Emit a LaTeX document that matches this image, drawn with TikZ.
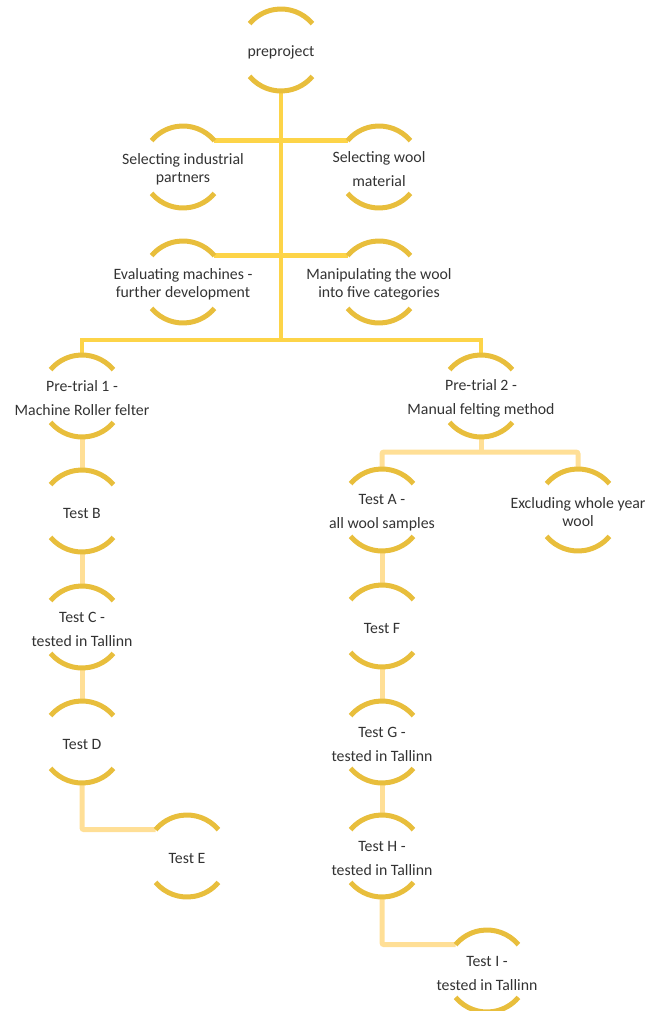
\documentclass[tikz,border=0pt]{standalone}
\usepackage{fontspec}
\setmainfont{Carlito}
\usetikzlibrary{positioning}

\definecolor{ringgold}{HTML}{E8BE3C}
\definecolor{trunkyellow}{HTML}{FDD448}
\definecolor{paleyellow}{HTML}{FFDF96}
\definecolor{textgray}{HTML}{333333}

\tikzset{
  stage/.style={circle, minimum size=82pt, inner sep=0pt, outer sep=0pt},
  lab/.style={text=textgray, align=center, inner sep=0pt, yshift=-2.5pt, font=\fontsize{15.8}{18}\selectfont},
  labwide/.style={lab, font=\fontsize{15.8}{24}\selectfont},
  ringline/.style={ringgold, line width=5pt},
  trunk/.style={trunkyellow, line width=4.5pt},
  branch/.style={paleyellow, line width=5pt, rounded corners=2pt},
}

\begin{document}
\begin{tikzpicture}[x=1pt, y=1pt]
  \useasboundingbox (0,0) rectangle (647,-1011);
  % top of the tree
  \node[stage, label={[lab]center:{preproject}}] (pre) at (281,-50) {};
  \node[stage, label={[lab]center:{Selecting industrial\\partners}}] (sip) at (183,-167) {};
  \node[stage, label={[labwide]center:{Selecting wool\\material}}] (swm) at (379,-167) {};
  \node[stage, label={[lab]center:{Evaluating machines -\\further development}}] (evm) at (183,-282) {};
  \node[stage, label={[lab]center:{Manipulating the wool\\into five categories}}] (mpw) at (379,-282) {};
  % left branch: roller felter
  \node[stage, label={[labwide]center:{Pre-trial 1 -\\Machine Roller felter}}] (pt1) at (82,-396) {};
  \node[stage, label={[lab]center:{Test B}}] (tb) at (82,-511) {};
  \node[stage, label={[labwide]center:{Test C -\\tested in Tallinn}}] (tc) at (82,-627) {};
  \node[stage, label={[lab]center:{Test D}}] (td) at (82,-742) {};
  \node[stage, label={[lab]center:{Test E}}] (te) at (187,-856) {};
  % right branch: manual felting
  \node[stage, label={[labwide]center:{Pre-trial 2 -\\Manual felting method}}] (pt2) at (481,-396) {};
  \node[stage, label={[labwide]center:{Test A -\\all wool samples}}] (ta) at (382,-510) {};
  \node[stage, label={[lab]center:{Excluding whole year\\wool}}] (ex) at (578,-510) {};
  \node[stage, label={[lab]center:{Test F}}] (tf) at (382,-626) {};
  \node[stage, label={[labwide]center:{Test G -\\tested in Tallinn}}] (tg) at (382,-742) {};
  \node[stage, label={[labwide]center:{Test H -\\tested in Tallinn}}] (th) at (382,-856) {};
  \node[stage, label={[labwide]center:{Test I -\\tested in Tallinn}}] (ti) at (487,-971) {};
  % trunk and first split
  \coordinate (split) at (281,-340);
  \coordinate (fork) at (481,-452);
  \draw[trunk] (pre.south) -- (split);
  \draw[trunk] (sip.40) -- (swm.140);
  \draw[trunk] (evm.40) -- (mpw.140);
  \draw[trunk] (pt1.north) |- (split) -| (pt2.north);
  % lower links
  \draw[branch] (pt1.south) -- (tb.north);
  \draw[branch] (tb.south) -- (tc.north);
  \draw[branch] (tc.south) -- (td.north);
  \draw[branch] (td.south) |- (te.140);
  \draw[branch] (pt2.south) -- (fork);
  \draw[branch] (ta.north) |- (fork) -| (ex.north);
  \draw[branch] (ta.south) -- (tf.north);
  \draw[branch] (tf.south) -- (tg.north);
  \draw[branch] (tg.south) -- (th.north);
  \draw[branch] (th.south) |- (ti.140);
  % the two arcs of every stage
  \foreach \n in {pre,sip,swm,evm,mpw,pt1,tb,tc,td,te,pt2,ta,ex,tf,tg,th,ti} {
    \draw[ringline] (\n.40) arc[start angle=40, end angle=140, radius=41pt];
    \draw[ringline] (\n.220) arc[start angle=220, end angle=320, radius=41pt];
  }
\end{tikzpicture}
\end{document}
